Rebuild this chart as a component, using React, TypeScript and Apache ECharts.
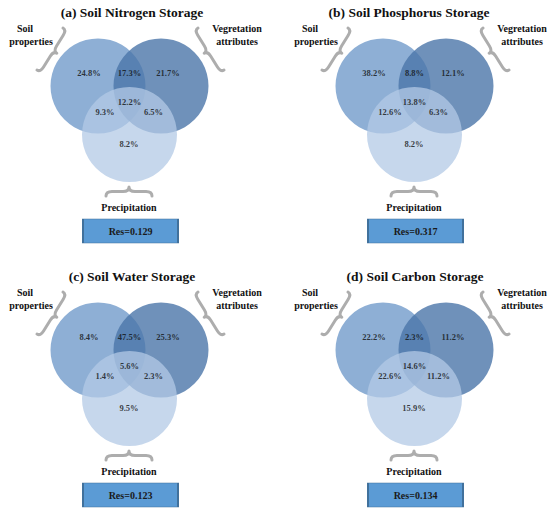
import React, { useEffect, useRef } from "react";
import * as echarts from "echarts";

// ---------- data ----------
const titles = [
  "(a) Soil Nitrogen Storage",
  "(b) Soil Phosphorus Storage",
  "(c) Soil Water Storage",
  "(d) Soil Carbon Storage",
];
const factors = ["Soil properties", "Vegretation attributes", "Precipitation"];
// region order: soil only, soil∩veg, veg only, all three, soil∩prec, veg∩prec, prec only
const regions = ["Soil only", "Soil & Vegetation", "Vegetation only", "All three", "Soil & Precipitation", "Vegetation & Precipitation", "Precipitation only"];
const nitrogen = [24.8, 17.3, 21.7, 12.2, 9.3, 6.5, 8.2];
const phosphorus = [38.2, 8.8, 12.1, 13.8, 12.6, 6.3, 8.2];
const water = [8.4, 47.5, 25.3, 5.6, 1.4, 2.3, 9.5];
const carbon = [22.2, 2.3, 11.2, 14.6, 22.6, 11.2, 15.9];
const residuals = [0.129, 0.317, 0.123, 0.134];
const panels = [nitrogen, phosphorus, water, carbon];

// ---------- layout ----------
const W = 550;
const H = 511;
const OFFSETS = [[0, 0], [285, 0], [0, 264], [285, 264]];
const TITLE_X = [132, 409, 132, 415];
const TITLE_Y = 12;
const CIRCLES = [[98, 86], [161, 86], [129.5, 134.5]];
const CIRCLE_D = 95;
const CIRCLE_COLORS = ["rgb(142,175,213)", "rgba(75,118,169,0.8)", "rgba(179,202,230,0.75)"];
const REGION_POS = [[89, 73], [129.5, 73], [168, 73], [129.5, 102], [105, 112], [153.5, 112], [129, 143.5]];
const RES_POS = [130.5, 231];
const FONT = "Liberation Serif";

type P = [number, number];
function braceD(p0: P, p1: P, sign: number, d: number, r: number): string {
  const dx = p1[0] - p0[0];
  const dy = p1[1] - p0[1];
  const L = Math.hypot(dx, dy);
  const u = [dx / L, dy / L];
  const n = sign > 0 ? [u[1], -u[0]] : [-u[1], u[0]];
  const pt = (s: number, t: number) =>
    `${(p0[0] + u[0] * s + n[0] * t).toFixed(2)},${(p0[1] + u[1] * s + n[1] * t).toFixed(2)}`;
  const h = d / 2;
  const m = L / 2;
  return (
    `M${pt(0, 0)} Q${pt(0, h)} ${pt(r, h)} L${pt(m - r, h)} Q${pt(m, h)} ${pt(m, d)} ` +
    `Q${pt(m, h)} ${pt(m + r, h)} L${pt(L - r, h)} Q${pt(L, h)} ${pt(L, 0)}`
  );
}

echarts.graphic.registerShape("braceSoil", echarts.graphic.extendPath(braceD([63, 28], [37, 70], 1, 8, 6), {}));
echarts.graphic.registerShape("braceVeg", echarts.graphic.extendPath(braceD([198, 28], [224, 70], -1, 8, 6), {}));
echarts.graphic.registerShape("bracePrec", echarts.graphic.extendPath(braceD([106, 196], [152, 196], 1, 9, 6), {}));

function txt(text: string, x: number, y: number, size: number) {
  return {
    type: "text",
    x,
    y,
    silent: true,
    style: {
      text,
      fontFamily: FONT,
      fontWeight: "bold",
      fontSize: size,
      fill: "#111",
      align: "center",
      verticalAlign: "middle",
    },
  };
}

export default function App() {
  const ref = useRef<HTMLDivElement>(null);
  useEffect(() => {
    if (!ref.current) return;
    const chart = echarts.init(ref.current, undefined, { renderer: "svg" });

    const series: any[] = [];
    factors.forEach((f, i) => {
      series.push({
        type: "scatter",
        name: f,
        symbol: "circle",
        symbolSize: CIRCLE_D,
        silent: true,
        itemStyle: { color: CIRCLE_COLORS[i], opacity: 1 },
        emphasis: { disabled: true },
        data: OFFSETS.map((o) => [o[0] + CIRCLES[i][0], o[1] + CIRCLES[i][1]]),
      });
    });
    const labelData: any[] = [];
    panels.forEach((vals, p) => {
      vals.forEach((v, r) => {
        labelData.push({
          name: regions[r],
          value: [OFFSETS[p][0] + REGION_POS[r][0], OFFSETS[p][1] + REGION_POS[r][1], v],
        });
      });
    });
    series.push({
      type: "scatter",
      name: "shares",
      symbol: "circle",
      symbolSize: 1,
      silent: true,
      itemStyle: { color: "rgba(0,0,0,0)" },
      emphasis: { disabled: true },
      label: {
        show: true,
        position: "inside",
        formatter: (pr: any) => pr.value[2].toFixed(1) + "%",
        fontFamily: FONT,
        fontWeight: "bold",
        fontSize: 8.5,
        color: "#111",
      },
      data: labelData,
    });
    series.push({
      type: "scatter",
      name: "Res",
      symbol: "rect",
      symbolSize: [95, 24],
      silent: true,
      itemStyle: { color: "#5b9bd5", borderColor: "#41719c", borderWidth: 1, opacity: 1 },
      emphasis: { disabled: true },
      label: {
        show: true,
        position: "inside",
        formatter: (pr: any) => "Res=" + pr.value[2].toFixed(3),
        fontFamily: FONT,
        fontWeight: "bold",
        fontSize: 10,
        color: "#1a1a1a",
      },
      data: OFFSETS.map((o, p) => [o[0] + RES_POS[0], o[1] + RES_POS[1], residuals[p]]),
    });

    const graphic: any[] = [];
    OFFSETS.forEach((o, p) => {
      const [ox, oy] = o;
      graphic.push(txt(titles[p], TITLE_X[p], oy + TITLE_Y, 13.5));
      graphic.push(txt("Soil", ox + 25, oy + 28.5, 10));
      graphic.push(txt("properties", ox + 31, oy + 41, 10));
      graphic.push(txt("Vegretation", ox + 237, oy + 28.5, 10));
      graphic.push(txt("attributes", ox + 237, oy + 41, 10));
      graphic.push(txt("Precipitation", ox + 129, oy + 207, 10));
      ["braceSoil", "braceVeg", "bracePrec"].forEach((t) => {
        graphic.push({
          type: t,
          x: ox,
          y: oy,
          silent: true,
          style: { fill: "none", stroke: "#adadad", lineWidth: 3, lineCap: "round", lineJoin: "round" },
        });
      });
    });

    chart.setOption({
      animation: false,
      backgroundColor: "#ffffff",
      grid: { left: 0, right: 0, top: 0, bottom: 0 },
      xAxis: { type: "value", min: 0, max: W, show: false },
      yAxis: { type: "value", min: 0, max: H, inverse: true, show: false },
      series,
      graphic,
    });
    return () => chart.dispose();
  }, []);
  return <div ref={ref} style={{ position: "absolute", left: 0, top: 0, width: W, height: H }} />;
}
